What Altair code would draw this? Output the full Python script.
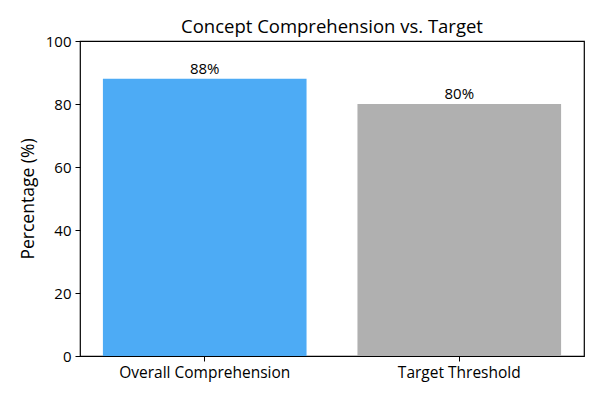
import altair as alt
import pandas as pd

categories = ["Overall Comprehension", "Target Threshold"]
values = [88, 80]
labels = ["88%", "80%"]
colors = ["#4DABF5", "#B0B0B0"]

df = pd.DataFrame({"category": categories, "value": values, "label": labels, "color": colors})

FONT = "Open Sans"

x = alt.X("category:N", sort=categories, title=None,
          scale=alt.Scale(paddingInner=0.2, paddingOuter=0.09),
          axis=alt.Axis(labelAngle=0, labelFontSize=15.5, labelColor="black", labelFont=FONT,
                        tickColor="black", tickSize=5, domain=False, labelPadding=4))
y = alt.Y("value:Q", title="Percentage (%)",
          scale=alt.Scale(domain=[0, 100], nice=False),
          axis=alt.Axis(values=[0, 20, 40, 60, 80, 100], grid=False, labelFontSize=15,
                        labelColor="black", labelFont=FONT, tickColor="black", tickSize=5,
                        domain=False, titleFontSize=17.5, titleFont=FONT, titleFontWeight="normal",
                        titleColor="black", titlePadding=8, labelPadding=4))

bars = alt.Chart(df).mark_bar().encode(
    x=x, y=y, color=alt.Color("color:N", scale=None)
)
text = alt.Chart(df).mark_text(dy=-10, fontSize=15, font=FONT, color="black").encode(
    x=alt.X("category:N", sort=categories), y="value:Q", text="label:N"
)

chart = (bars + text).properties(
    width=504, height=315,
    title=alt.TitleParams("Concept Comprehension vs. Target", fontSize=18.5, font=FONT,
                          fontWeight="normal", color="black", offset=7, dy=9),
    padding={"left": 72, "top": 33, "right": 8, "bottom": 36},
    autosize="none",
).configure_view(stroke="black", strokeWidth=1.2)

chart.save("out.html", embed_options={"renderer": "svg", "actions": False})
